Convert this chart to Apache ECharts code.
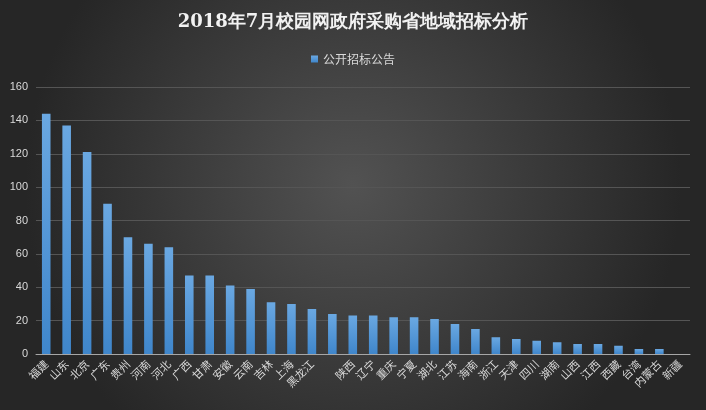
<!DOCTYPE html><html><head><meta charset="utf-8"><script src="https://cdn.jsdelivr.net/npm/echarts@6/dist/echarts.min.js"></script>
<style>html,body{margin:0;padding:0;}#c{width:706px;height:410px;}</style></head><body><div id="c"></div><script>
const categories=['福建','山东','北京','广东','贵州','河南','河北','广西','甘肃','安徽','云南','吉林','上海','黑龙江','','陕西','辽宁','重庆','宁夏','湖北','江苏','海南','浙江','天津','四川','湖南','山西','江西','西藏','台湾','内蒙古','新疆'];
const values=[144,137,121,90,70,66,64,47,47,41,39,31,30,27,24,23,23,22,22,21,18,15,10,9,8,7,6,6,5,3,3,0];
const seriesName='公开招标公告';
const chart=echarts.init(document.getElementById('c'));
chart.setOption({
backgroundColor:{type:'radial',x:0.5,y:0.45,r:0.8,colorStops:[{offset:0,color:'#525252'},{offset:1,color:'#262626'}]},
title:{text:'2018年7月校园网政府采购省地域招标分析',left:'center',top:8,textStyle:{color:'#f2f2f2',fontSize:18,fontWeight:'bold',fontFamily:'DejaVu Serif'}},
legend:{top:48,left:'center',itemWidth:7,itemHeight:7,icon:'rect',textStyle:{color:'#d9d9d9',fontSize:12,fontFamily:'Noto Sans CJK SC'},data:[seriesName]},
grid:{left:36,right:16,top:87,bottom:56},
xAxis:{type:'category',data:categories,axisLine:{lineStyle:{color:'#a6a6a6'}},axisTick:{show:false},axisLabel:{rotate:45,interval:0,color:'#d9d9d9',fontSize:11,fontFamily:'Noto Sans CJK SC',margin:8}},
yAxis:{type:'value',min:0,max:160,interval:20,axisLine:{show:false},axisTick:{show:false},axisLabel:{color:'#d9d9d9',fontSize:11},splitLine:{lineStyle:{color:'#555555'}}},
series:[{name:seriesName,type:'bar',data:values,barWidth:'42%',itemStyle:{color:{type:'linear',x:0,y:0,x2:0,y2:1,colorStops:[{offset:0,color:'#6aa8e2'},{offset:1,color:'#3f86cb'}]}}}]
});
</script></body></html>
